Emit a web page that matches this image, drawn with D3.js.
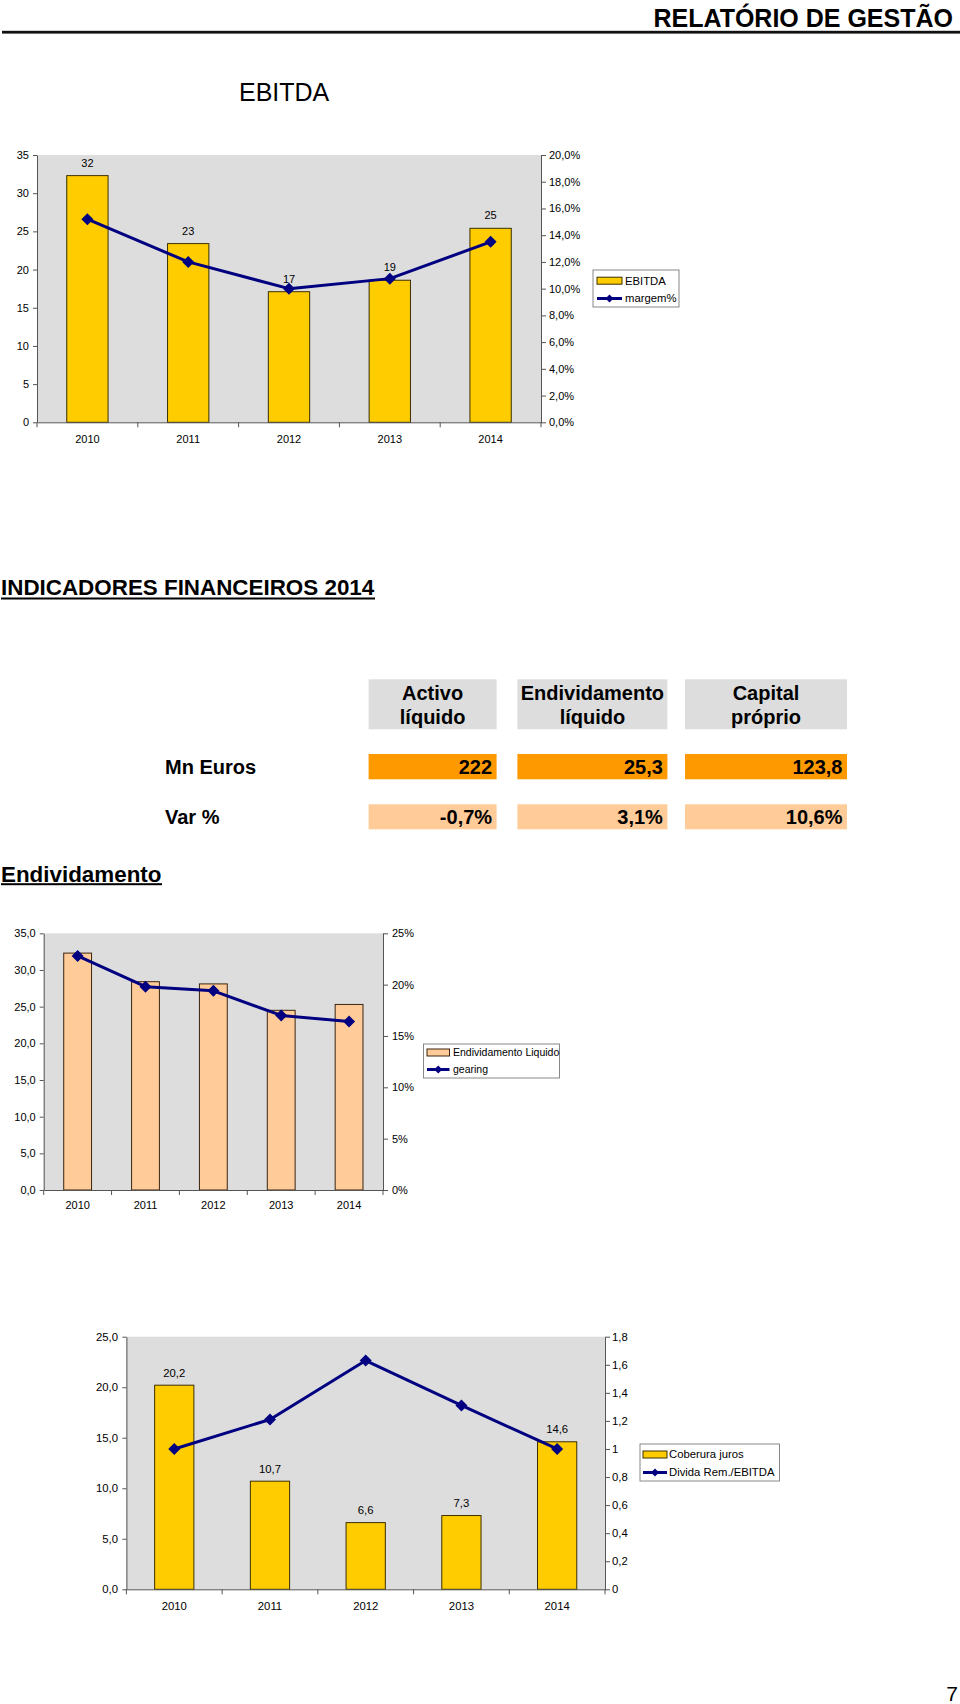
<!DOCTYPE html>
<html><head><meta charset="utf-8">
<script src="https://cdn.jsdelivr.net/npm/d3@7"></script>
<style>
html,body{margin:0;padding:0;background:#fff;}
svg{display:block;font-family:"Liberation Sans",Arial,Helvetica,sans-serif;}
</style></head>
<body>
<svg id="page" width="960" height="1704"></svg>
<script>
// ---------- DATA ----------
const years = ["2010","2011","2012","2013","2014"];
// EBITDA chart
const ebitda = [32.3, 23.4, 17.1, 18.6, 25.4];
const ebitdaLabels = ["32","23","17","19","25"];
const margem = [0.152, 0.120, 0.100, 0.1075, 0.135];
// Indicadores table
const indicatorHeaders = [["Activo","líquido"],["Endividamento","líquido"],["Capital","próprio"]];
const rowLabels = ["Mn Euros","Var %"];
const mnEuros = ["222","25,3","123,8"];
const varPct = ["-0,7%","3,1%","10,6%"];
// Endividamento chart
const endividamento = [32.3, 28.4, 28.1, 24.5, 25.3];
const gearing = [0.228, 0.198, 0.194, 0.170, 0.164];
// Cobertura chart
const cobertura = [20.2, 10.7, 6.6, 7.3, 14.6];
const coberturaLabels = ["20,2","10,7","6,6","7,3","14,6"];
const dividaEbitda = [1.0, 1.21, 1.63, 1.31, 1.0];

// ---------- HELPERS ----------
const loc = d3.formatLocale({decimal:",", thousands:".", grouping:[3], currency:["","€"]});
const svg = d3.select("#page");
const NAVY = "#000080", GRAYBG = "#dddddd", AXIS = "#555";
const diamond = "M0,-6L6,0L0,6L-6,0Z";

function comboChart(o){
  const g = svg.append("g");
  const x = d3.scaleBand().domain(years).range([o.x0,o.x1]).padding(0);
  const yL = d3.scaleLinear().domain(o.leftDomain).range([o.yBot,o.yTop]);
  const yR = d3.scaleLinear().domain(o.rightDomain).range([o.yBot,o.yTop]);
  g.append("rect").attr("x",o.x0).attr("y",o.yTop).attr("width",o.x1-o.x0).attr("height",o.yBot-o.yTop).attr("fill",GRAYBG);
  const bw = x.bandwidth()*o.barRatio;
  g.selectAll("rect.bar").data(o.bars).join("rect").attr("class","bar")
    .attr("x",(d,i)=>x(years[i])+x.bandwidth()/2-bw/2)
    .attr("y",d=>yL(d)).attr("width",bw).attr("height",d=>yL(0)-yL(d))
    .attr("fill",o.barFill).attr("stroke",o.barStroke).attr("stroke-width",1);
  if(o.barLabels){
    g.selectAll("text.bl").data(o.barLabels).join("text").attr("class","bl")
      .attr("x",(d,i)=>x(years[i])+x.bandwidth()/2).attr("y",(d,i)=>yL(o.bars[i])-o.labelGap)
      .attr("text-anchor","middle").attr("font-size",o.fs).attr("fill","#000").text(d=>d);
  }
  // axes
  const la = g.append("g").attr("transform",`translate(${o.x0},0)`)
    .call(d3.axisLeft(yL).tickValues(o.leftTicks).tickFormat(o.leftFmt).tickSizeInner(4).tickSizeOuter(0).tickPadding(o.lPad));
  const ra = g.append("g").attr("transform",`translate(${o.x1},0)`)
    .call(d3.axisRight(yR).tickValues(o.rightTicks).tickFormat(o.rightFmt).tickSizeInner(5).tickSizeOuter(0).tickPadding(o.rPad));
  const ba = g.append("g").attr("transform",`translate(0,${o.yBot})`)
    .call(d3.axisBottom(x).tickSize(0).tickPadding(o.bPad));
  [la,ra,ba].forEach(a=>{
    a.selectAll("path.domain").attr("stroke",AXIS).attr("stroke-width",1);
    a.selectAll(".tick line").attr("stroke",AXIS);
    a.selectAll("text").attr("font-size",o.fs).attr("fill","#000").attr("font-family",'"Liberation Sans",Arial,sans-serif');
  });
  // category boundary ticks
  const bounds = years.map(d=>x(d)).concat([o.x1]);
  g.selectAll("line.bt").data(bounds).join("line").attr("class","bt")
    .attr("x1",d=>d).attr("x2",d=>d).attr("y1",o.yBot).attr("y2",o.yBot+5).attr("stroke",AXIS);
  // line
  const line = d3.line().x((d,i)=>x(years[i])+x.bandwidth()/2).y(d=>yR(d));
  g.append("path").datum(o.line).attr("d",line).attr("fill","none").attr("stroke",NAVY).attr("stroke-width",3).attr("stroke-linejoin","round");
  g.selectAll("path.mk").data(o.line).join("path").attr("class","mk")
    .attr("d",diamond).attr("transform",(d,i)=>`translate(${x(years[i])+x.bandwidth()/2},${yR(d)})`).attr("fill",NAVY);
  // legend
  const L = o.legend;
  const lg = g.append("g");
  lg.append("rect").attr("x",L.x).attr("y",L.y).attr("width",L.w).attr("height",L.h).attr("fill","#fff").attr("stroke","#888").attr("stroke-width",1);
  lg.append("rect").attr("x",L.sx).attr("y",L.r1-3.5).attr("width",L.sw).attr("height",7).attr("fill",o.barFill).attr("stroke",o.barStroke);
  lg.append("line").attr("x1",L.sx).attr("x2",L.sx+L.sw).attr("y1",L.r2).attr("y2",L.r2).attr("stroke",NAVY).attr("stroke-width",3);
  lg.append("path").attr("d","M0,-4L4,0L0,4L-4,0Z").attr("transform",`translate(${L.sx+L.sw/2},${L.r2})`).attr("fill",NAVY);
  lg.append("text").attr("x",L.tx).attr("y",L.r1).attr("dy","0.35em").attr("font-size",L.fs).text(L.t1);
  lg.append("text").attr("x",L.tx).attr("y",L.r2).attr("dy","0.35em").attr("font-size",L.fs).text(L.t2);
}

// ---------- HEADER ----------
svg.append("text").attr("x",953).attr("y",27).attr("text-anchor","end").attr("font-weight","bold")
  .attr("font-size",25).text("RELATÓRIO DE GESTÃO");
svg.append("rect").attr("x",2).attr("y",30.8).attr("width",958).attr("height",2.8).attr("fill","#111");
svg.append("text").attr("x",239).attr("y",100.5).attr("font-size",25).text("EBITDA");

// ---------- CHART 1 ----------
comboChart({
  x0:37, x1:541, yTop:155, yBot:422.3,
  leftDomain:[0,35], rightDomain:[0,0.20],
  leftTicks:d3.range(0,36,5), rightTicks:d3.range(0,11).map(i=>i*0.02),
  leftFmt:d=>loc.format("d")(d), rightFmt:loc.format(".1%"),
  bars:ebitda, barLabels:ebitdaLabels, labelGap:9, line:margem,
  barRatio:0.41, barFill:"#ffcc00", barStroke:"#3a3000",
  fs:11, lPad:4, rPad:3, bPad:13,
  legend:{x:593,y:270,w:86,h:37,sx:597,sw:25,r1:280.7,r2:298.5,tx:625,fs:11.3,t1:"EBITDA",t2:"margem%"}
});

// ---------- INDICADORES ----------
svg.append("text").attr("x",1).attr("y",595).attr("font-size",22.4).attr("font-weight","bold").text("INDICADORES FINANCEIROS 2014");
svg.append("rect").attr("x",1).attr("y",597.5).attr("width",374).attr("height",2).attr("fill","#000");

const colX = [[368.6,496.6],[517.4,667.4],[685,847]];
const tg = svg.append("g").attr("font-weight","bold").attr("font-size",20);
tg.selectAll("rect.h").data(indicatorHeaders).join("rect").attr("class","h")
  .attr("x",(d,i)=>colX[i][0]).attr("y",679.3).attr("width",(d,i)=>colX[i][1]-colX[i][0]).attr("height",50).attr("fill","#dddddd");
indicatorHeaders.forEach((lines,i)=>{
  lines.forEach((t,j)=>{
    tg.append("text").attr("x",(colX[i][0]+colX[i][1])/2).attr("y",699.5+j*24).attr("text-anchor","middle").text(t);
  });
});
tg.selectAll("rect.m").data(mnEuros).join("rect").attr("class","m")
  .attr("x",(d,i)=>colX[i][0]).attr("y",754).attr("width",(d,i)=>colX[i][1]-colX[i][0]).attr("height",25.3).attr("fill","#ff9900");
tg.selectAll("text.m").data(mnEuros).join("text").attr("class","m")
  .attr("x",(d,i)=>colX[i][1]-4.5).attr("y",774).attr("text-anchor","end").text(d=>d);
tg.selectAll("rect.v").data(varPct).join("rect").attr("class","v")
  .attr("x",(d,i)=>colX[i][0]).attr("y",804.3).attr("width",(d,i)=>colX[i][1]-colX[i][0]).attr("height",25).attr("fill","#ffcc99");
tg.selectAll("text.v").data(varPct).join("text").attr("class","v")
  .attr("x",(d,i)=>colX[i][1]-4.5).attr("y",824).attr("text-anchor","end").text(d=>d);
tg.selectAll("text.r").data(rowLabels).join("text").attr("class","r")
  .attr("x",165).attr("y",(d,i)=>774+i*50).text(d=>d);

svg.append("text").attr("x",1).attr("y",881.5).attr("font-size",22.4).attr("font-weight","bold").text("Endividamento");
svg.append("rect").attr("x",1).attr("y",883.2).attr("width",161).attr("height",2).attr("fill","#000");

// ---------- CHART 2 ----------
comboChart({
  x0:43.7, x1:383, yTop:933.3, yBot:1190,
  leftDomain:[0,35], rightDomain:[0,0.25],
  leftTicks:d3.range(0,36,5), rightTicks:d3.range(0,6).map(i=>i*0.05),
  leftFmt:loc.format(".1f"), rightFmt:loc.format(".0%"),
  bars:endividamento, barLabels:null, labelGap:9, line:gearing,
  barRatio:0.41, barFill:"#ffcc99", barStroke:"#3a2410",
  fs:11, lPad:4, rPad:4, bPad:11,
  legend:{x:423.5,y:1044,w:136,h:34,sx:427,sw:22.5,r1:1052.5,r2:1069.5,tx:453,fs:10.5,t1:"Endividamento Liquido",t2:"gearing"}
});

// ---------- CHART 3 ----------
comboChart({
  x0:126.4, x1:605, yTop:1336.7, yBot:1589.3,
  leftDomain:[0,25], rightDomain:[0,1.8],
  leftTicks:d3.range(0,26,5), rightTicks:d3.range(0,10).map(i=>i*0.2),
  leftFmt:loc.format(".1f"), rightFmt:d=>loc.format("~g")(+d.toFixed(1)),
  bars:cobertura, barLabels:coberturaLabels, labelGap:8.5, line:dividaEbitda,
  barRatio:0.41, barFill:"#ffcc00", barStroke:"#3a3000",
  fs:11.3, lPad:4.4, rPad:2, bPad:13,
  legend:{x:640,y:1444,w:139.5,h:37,sx:643,sw:24,r1:1454.5,r2:1472.5,tx:669,fs:11.3,t1:"Coberura juros",t2:"Divida Rem./EBITDA"}
});

// ---------- PAGE NUMBER ----------
svg.append("text").attr("x",958).attr("y",1701).attr("text-anchor","end").attr("font-size",21).text("7");
</script>
</body></html>
